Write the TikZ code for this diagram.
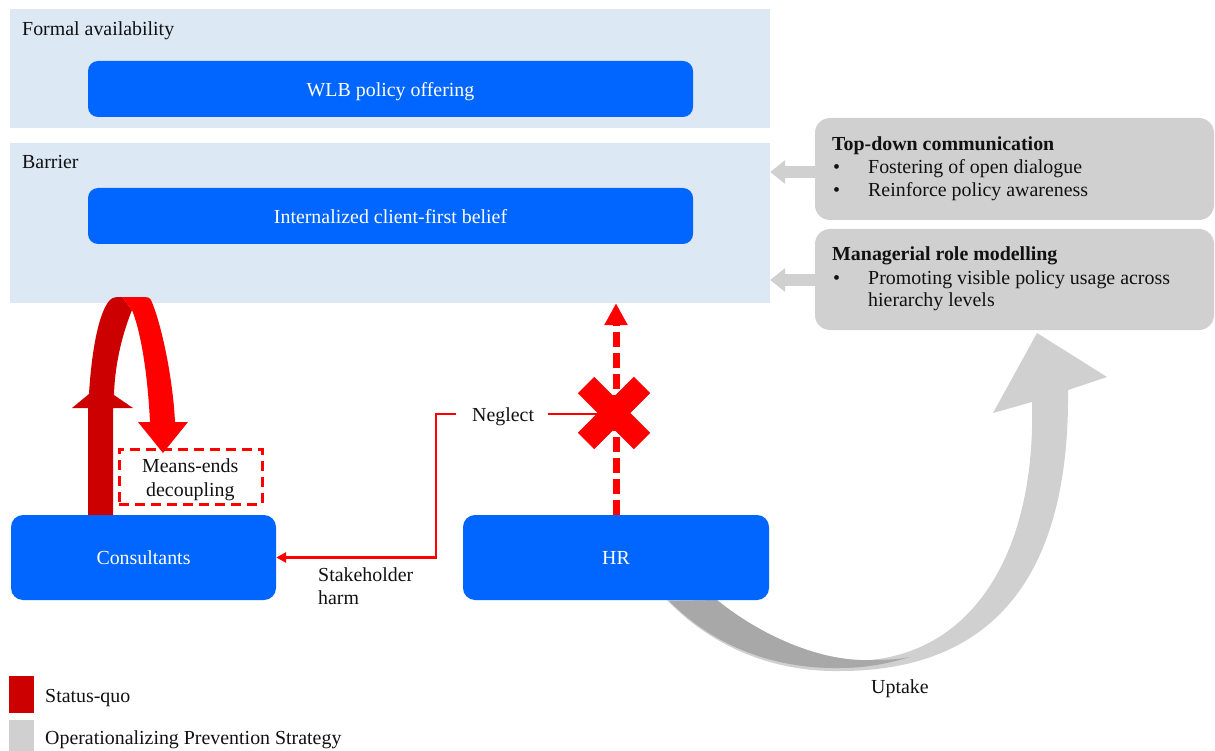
\documentclass[tikz,border=0pt]{standalone}
\usepackage{fontspec}
\setmainfont{Liberation Serif}
\usetikzlibrary{arrows.meta}
\definecolor{bandblue}{HTML}{DDE8F5}
\definecolor{boxblue}{HTML}{0066FF}
\definecolor{darkred}{HTML}{CC0000}
\definecolor{hotred}{HTML}{FF0000}
\definecolor{panelgray}{HTML}{D0D0D0}
\definecolor{shadegray}{HTML}{A8A8A8}
\definecolor{ink}{HTML}{111111}

\begin{document}
\begin{tikzpicture}[x=1pt,y=-1pt,
  font=\fontsize{19.9pt}{24pt}\selectfont,
  band/.style={fill=bandblue, draw=none, inner sep=0pt},
  bluebox/.style={fill=boxblue, draw=none, text=white, inner sep=0pt, text depth=0pt},
  panel/.style={fill=panelgray, draw=none, rounded corners=15pt, inner sep=0pt},
  lbl/.style={anchor=base west, inner sep=0pt, text=ink, yshift=-1pt},
  bold/.style={font=\fontsize{19.9pt}{24pt}\selectfont\bfseries},
  grayarrow/.style={draw=panelgray, line width=12pt,
    -{Triangle[length=15pt,width=23pt]}},
  blockedarrow/.style={draw=hotred, line width=7pt, dash pattern=on 15pt off 6pt,
    -{Triangle[length=22pt,width=22pt]}},
  redline/.style={draw=hotred, line width=2.5pt,
    -{Triangle[length=10pt,width=10pt]}},
  crossbar/.style={draw=hotred, line width=23pt},
]
\useasboundingbox (0,0) rectangle (1215,751);

% layers: formal availability and barrier
\node[band, minimum width=760pt, minimum height=119pt] (avail) at (390,68.5) {};
\node[lbl] (availlbl) at (22,35) {Formal availability};
\node[bluebox, rounded corners=10pt, minimum width=605pt, minimum height=56pt]
  (wlb) at (390.5,89) {WLB policy offering};

\node[band, minimum width=760pt, minimum height=160pt] (barrier) at (390,223) {};
\node[lbl] (barrierlbl) at (22,167.5) {Barrier};
\node[bluebox, rounded corners=10pt, minimum width=605pt, minimum height=56pt]
  (belief) at (390.5,216) {Internalized client-first belief};

% prevention measures acting on the barrier
\coordinate (tdarr) at (815,172);
\coordinate (mrarr) at (815,280);
\draw[grayarrow] (tdarr) -- (tdarr -| barrier.east);
\draw[grayarrow] (mrarr) -- (mrarr -| barrier.east);

\node[panel, minimum width=399pt, minimum height=102pt] (td) at (1014.5,169) {};
\node[lbl, bold] (tdhead) at (832,149.5) {Top-down communication};
\node[lbl] (tdb1) at (833,172.5) {•};
\node[lbl] (tdt1) at (868,172.5) {Fostering of open dialogue};
\node[lbl] (tdb2) at (833,195.5) {•};
\node[lbl] (tdt2) at (868,195.5) {Reinforce policy awareness};

\node[panel, minimum width=399pt, minimum height=101pt] (mr) at (1014.5,279.5) {};
\node[lbl, bold] (mrhead) at (832,259.5) {Managerial role modelling};
\node[lbl] (mrb1) at (833,283.5) {•};
\node[lbl] (mrt1) at (868,283.5) {Promoting visible policy usage across};
\node[lbl] (mrt2) at (868,305.5) {hierarchy levels};

% uptake ribbon arrow from HR up to the measures
\fill[panelgray] (667,600) .. controls (710,645) and (770,672) .. (840,671)
  .. controls (990,671) and (1070,580) .. (1068,390)
  -- (1107,377) -- (1037,333) -- (993,413) -- (1032,402)
  .. controls (1036,550) and (975,650) .. (870,660)
  .. controls (820,662) and (760,635) .. (717,600) -- cycle;
\fill[shadegray] (669,601) .. controls (712,644) and (770,669) .. (840,668)
  .. controls (870,668) and (893,662) .. (910,657)
  .. controls (895,660) and (882,660) .. (870,660)
  .. controls (820,662) and (760,635) .. (717,600) -- cycle;
\node[lbl] (uptake) at (871,692.5) {Uptake};

% actors
\node[bluebox, rounded corners=12pt, minimum width=265pt, minimum height=85pt]
  (cons) at (143.5,557.5) {Consultants};
\node[bluebox, rounded corners=12pt, minimum width=306pt, minimum height=85pt]
  (hr) at (616,557.5) {HR};

% status-quo loop of the consultants
\fill[darkred] (88,515) -- (88,408) -- (72,408) -- (89,394)
  .. controls (92,345) and (100,310) .. (110,300)
  .. controls (113,297) and (116,297) .. (122,297) -- (132,310)
  .. controls (124,330) and (115,360) .. (114,395)
  -- (133,408) -- (113,408) -- (113,515) -- cycle;
\fill[hotred] (122,297) -- (145,297) .. controls (148,297) and (150,298) .. (151,300)
  .. controls (162,325) and (173,380) .. (175,422)
  -- (188,422) -- (163,453) -- (138,422) -- (150,422)
  .. controls (148,380) and (142,335) .. (132,310) -- cycle;
\node[draw=hotred, line width=3pt, dash pattern=on 10pt off 6pt,
  minimum width=143pt, minimum height=55pt, inner sep=0pt]
  (decouple) at (190.5,476.5) {};
\node[lbl] (decouple1) at (142,471.5) {Means-ends};
\node[lbl] (decouple2) at (146,495) {decoupling};

% neglected HR path and stakeholder harm
\draw[blockedarrow] (hr.north) -- (hr.north |- barrier.south);
\coordinate (xm) at (614,413);
\coordinate (bend) at (436,414);
\draw[redline] (xm |- bend) -- (bend) |- (cons.east);
\node[fill=white, inner sep=0pt, minimum width=92pt, minimum height=20pt]
  (neglectbg) at (502,414) {};
\node[lbl] (neglect) at (472,420) {Neglect};
\draw[crossbar, shift={(xm)}] (-28,-28) -- (28,28);
\draw[crossbar, shift={(xm)}] (-28,28) -- (28,-28);
\node[lbl] (harm1) at (318,580.5) {Stakeholder};
\node[lbl] (harm2) at (318,603.5) {harm};

% legend
\node[fill=darkred, inner sep=0pt, minimum width=25pt, minimum height=37pt]
  (legred) at (21.5,694.5) {};
\node[lbl] (legredlbl) at (45,701.5) {Status-quo};
\node[fill=panelgray, inner sep=0pt, minimum width=25pt, minimum height=31pt]
  (leggray) at (21.5,735.5) {};
\node[lbl] (leggraylbl) at (45,743.5) {Operationalizing Prevention Strategy};
\end{tikzpicture}
\end{document}
